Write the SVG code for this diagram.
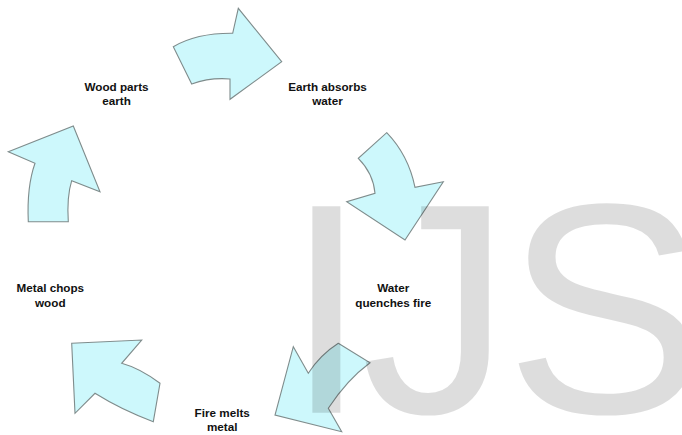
<svg xmlns="http://www.w3.org/2000/svg" width="682" height="435" viewBox="0 0 682 435">
<style>
.arrow{fill:#cdf8fc;stroke:#7f8c8c;stroke-width:1.1;stroke-linejoin:miter}
.lbl{font-family:"Liberation Sans",Arial,sans-serif;font-weight:bold;font-size:11.7px;fill:#111;text-anchor:middle}
.wm{font-family:"Liberation Sans",Arial,sans-serif;font-size:300px;fill:#000;fill-opacity:0.135}
</style>
<rect width="682" height="435" fill="#fff"/>
<g id="connectors">
<path id="arrow-wood-earth" class="arrow" d="M173.3,46.7 Q196.7,33 232.7,33.3 L238.3,8.3 L281.7,61.7 L230,99.3 L230,79 Q210,77.3 191.7,84 Z"/>
<path id="arrow-earth-water" class="arrow" d="M386.7,132.7 Q408.3,155 415,187.3 L443.3,181.7 L405,240 L346.7,201.7 L375,193.3 Q373.3,173.3 358.3,158.3 Z"/>
<path id="arrow-water-fire" class="arrow" d="M338.3,343.3 L370,362.7 Q346.7,380 328.3,408.3 L341.7,431.7 L275,415 L293.3,346.7 L308.3,373.3 Q320,355 338.3,343.3 Z"/>
<path id="arrow-fire-metal" class="arrow" d="M71.7,343.3 L141.7,340 L121.7,363.3 Q140,368.3 160,383.3 L153.3,421.7 Q121.7,410 95,393.3 L75,413.3 Z"/>
<path id="arrow-metal-wood" class="arrow" d="M8.3,151.7 L73.3,126 L100,191.7 L71.7,180.7 Q66.7,196.7 68.3,221.7 L28.3,221.7 Q26.7,186.7 35,163.3 Z"/>
</g>
<g id="node-wood">
<text class="lbl" x="116.5" y="90.5">Wood parts</text>
<text class="lbl" x="116.5" y="105">earth</text>
</g>
<g id="node-earth">
<text class="lbl" x="327.5" y="90.5">Earth absorbs</text>
<text class="lbl" x="327.5" y="105">water</text>
</g>
<g id="node-water">
<text class="lbl" x="393.3" y="292">Water</text>
<text class="lbl" x="393.3" y="306.5">quenches fire</text>
</g>
<g id="node-fire">
<text class="lbl" x="222.2" y="416.5">Fire melts</text>
<text class="lbl" x="222.2" y="430.5">metal</text>
</g>
<g id="node-metal">
<text class="lbl" x="50.3" y="292">Metal chops</text>
<text class="lbl" x="50.3" y="307">wood</text>
</g>
<text class="wm" x="284.7 361 505" y="412.7">IJS</text>
</svg>
